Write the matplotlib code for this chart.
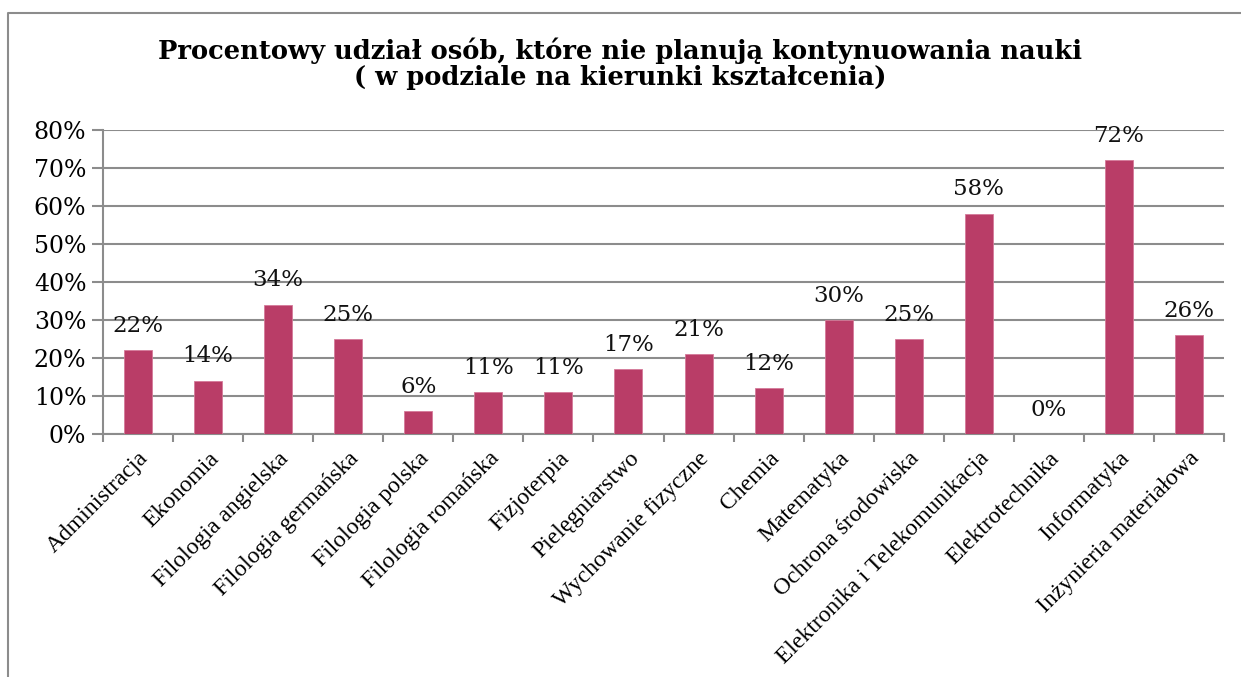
import matplotlib.pyplot as plt
from matplotlib.lines import Line2D
import numpy as np

categories = ['Administracja', 'Ekonomia', 'Filologia angielska', 'Filologia germańska',
              'Filologia polska', 'Filologia romańska', 'Fizjoterpia', 'Pielęgniarstwo',
              'Wychowanie fizyczne', 'Chemia', 'Matematyka', 'Ochrona środowiska',
              'Elektronika i Telekomunikacja', 'Elektrotechnika', 'Informatyka',
              'Inżynieria materiałowa']
values = [22, 14, 34, 25, 6, 11, 11, 17, 21, 12, 30, 25, 58, 0, 72, 26]
yticks = [0, 10, 20, 30, 40, 50, 60, 70, 80]

W, H = 1241, 677
fig = plt.figure(figsize=(W / 100, H / 100), dpi=100)

# outer chart frame: only the left and top edges are in view
fx, fy = 8 / W, 1 - 13 / H
fig.add_artist(Line2D([fx, fx, 1.0], [0.0, fy, fy], transform=fig.transFigure,
                      color='#8c8c8c', linewidth=1.5))

ax = fig.add_axes([103 / W, 1 - 434 / H, (1224 - 103) / W, (434 - 130) / H])
x = np.arange(len(categories))
ax.bar(x, values, width=0.4, color='#b93d67', edgecolor='#d47a99', linewidth=0.6, zorder=3)

for xi, v in zip(x, values):
    ax.text(xi, v + 3.5, f'{v}%', ha='center', va='bottom', fontsize=16.5,
            family='DejaVu Serif', color='#111111')

ax.set_xlim(-0.5, len(categories) - 0.5)
ax.set_ylim(0, 80)
ax.set_yticks(yticks)
ax.set_yticklabels([f'{t}%' for t in yticks], family='DejaVu Serif', fontsize=17)
ax.yaxis.grid(True, color='#8c8c8c', linewidth=1.5, zorder=0)
ax.tick_params(axis='y', length=8, width=1.5, color='#8c8c8c', pad=4)

ax.set_xticks(x)
ax.set_xticklabels(categories, rotation=45, ha='right', rotation_mode='anchor',
                   family='Liberation Serif', fontsize=17)
ax.set_xticks(np.arange(-0.5, len(categories)), minor=True)
ax.tick_params(axis='x', which='major', length=0, pad=10)
ax.tick_params(axis='x', which='minor', length=6, width=1.5, color='#8c8c8c')

for s in ['top', 'right']:
    ax.spines[s].set_visible(False)
for s in ['left', 'bottom']:
    ax.spines[s].set_color('#8c8c8c')
    ax.spines[s].set_linewidth(1.5)

fig.text(0.5, 1 - 64 / H, 'Procentowy udział osób, które nie planują kontynuowania nauki\n( w podziale na kierunki kształcenia)',
         ha='center', va='center', fontsize=18.5, fontweight='bold', family='DejaVu Serif',
         linespacing=1.05)

fig.savefig('out.png', dpi=100)
